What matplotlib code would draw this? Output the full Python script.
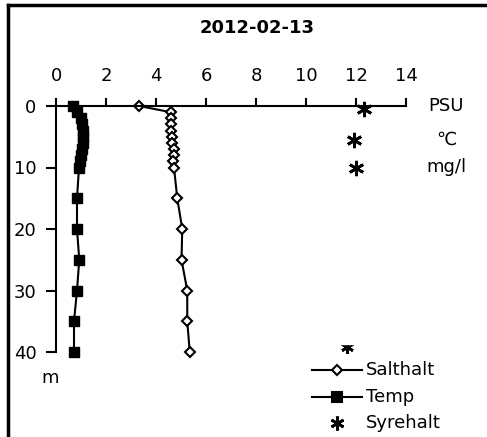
import matplotlib
matplotlib.use("Agg")
import matplotlib.pyplot as plt
from matplotlib.lines import Line2D
import numpy as np

plt.rcParams['font.family'] = ['DejaVu Sans']

# salinity profile (PSU)
salt_depth = [0, 1, 2, 3, 4, 5, 6, 7, 8, 9, 10, 15, 20, 25, 30, 35, 40]
salt = [3.33, 4.58, 4.58, 4.6, 4.6, 4.62, 4.65, 4.7, 4.7, 4.68, 4.72,
        4.85, 5.05, 5.02, 5.25, 5.25, 5.35]

# temperature profile (C)
temp_depth = [0, 1, 2, 3, 4, 5, 6, 7, 8, 9, 10, 15, 20, 25, 30, 35, 40]
temp = [0.68, 0.85, 0.98, 1.05, 1.08, 1.08, 1.08, 1.05, 1.0, 0.97, 0.92,
        0.84, 0.84, 0.93, 0.84, 0.72, 0.72]

# oxygen (mg/l)
oxy_depth = [0.5, 5.5, 10]
oxy = [12.3, 11.9, 12.0]

unit_labels = ['PSU', '℃', 'mg/l']
unit_depth = [0, 5.5, 10]

FS = 13

fig = plt.figure(figsize=(4.87, 4.37), dpi=100)
ax = fig.add_axes([56/487, 1-352/437, 350/487, 246/437])

star = (6, 2, 0)
l1, = ax.plot(salt, salt_depth, color='black', lw=1.5, marker='D', ms=5.5,
              mfc='white', mec='black', mew=1.5, clip_on=False, label='Salthalt')
l2, = ax.plot(temp, temp_depth, color='black', lw=1.5, marker='s', ms=6.5,
              mfc='black', mec='black', clip_on=False, label='Temp')
l3, = ax.plot(oxy, oxy_depth, ls='none', marker=star, ms=11, mec='black',
              mew=2, clip_on=False, label='Syrehalt')

ax.set_xlim(0, 14)
ax.set_ylim(40, 0)
ax.set_xticks(np.arange(0, 15, 2))
ax.set_yticks(np.arange(0, 41, 10))
ax.xaxis.tick_top()
ax.spines['right'].set_visible(False)
ax.spines['bottom'].set_visible(False)
for s in ['top', 'left']:
    ax.spines[s].set_linewidth(1.5)
ax.tick_params(axis='x', direction='out', length=6, width=1.5, pad=9, labelsize=FS)
ax.tick_params(axis='y', direction='out', length=7, width=1.5, pad=7, labelsize=FS)

for lab, d in zip(unit_labels, unit_depth):
    ax.text(15.6, d, lab, fontsize=FS, va='center', ha='center', clip_on=False)
ax.text(-0.25, 44.3, 'm', fontsize=FS, ha='center', va='center', clip_on=False)

fig.text(257/487, 1-28/437, '2012-02-13', fontsize=FS, fontweight='bold',
         ha='center', va='center')

# custom legend
rows = [(370, l1, 'Salthalt'), (397, l2, 'Temp'), (423, l3, 'Syrehalt')]
for y, ln, lab in rows:
    yf = 1 - y/437
    if lab == 'Syrehalt':
        fig.add_artist(Line2D([337/487], [yf], ls='none', marker=star, ms=10,
                              mec='black', mew=2))
    else:
        fig.add_artist(Line2D([312/487, 362/487], [yf, yf], color='black', lw=1.5))
        fig.add_artist(Line2D([337/487], [yf], ls='none', marker=ln.get_marker(),
                              ms=ln.get_markersize(), mfc=ln.get_markerfacecolor(),
                              mec='black', mew=1.5))
    fig.text(366/487, yf, lab, fontsize=FS, va='center', ha='left')

# clipped star fragment above the legend
fig.add_artist(Line2D([347/487], [1-347/437], ls='none', marker=(6, 2, 0), ms=9,
                      mec='black', mew=2))
fig.add_artist(plt.Rectangle((330/487, 1-344/437), 40/487, 10/437,
                             transform=fig.transFigure, color='white', zorder=5))

# outer frame (left and top edges)
fig.add_artist(Line2D([8/487, 8/487], [0, 1-5/437], color='black', lw=2.5))
fig.add_artist(Line2D([8/487, 1], [1-5/437, 1-5/437], color='black', lw=2.5))

fig.savefig('out.png', dpi=100)
